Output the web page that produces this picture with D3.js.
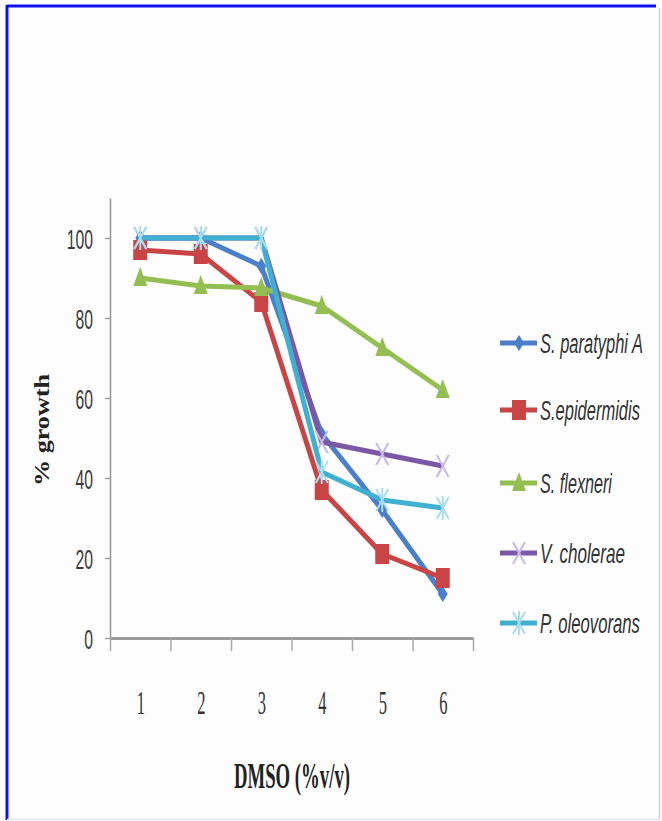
<!DOCTYPE html>
<html><head><meta charset="utf-8">
<script src="https://cdn.jsdelivr.net/npm/d3@7"></script>
<style>
html,body{margin:0;padding:0;background:#fff;}
svg{display:block;}
</style></head>
<body>
<svg id="chart" width="662" height="821"></svg>
<script>
// ---- data ----
const categories = [1, 2, 3, 4, 5, 6];
const seriesNames = ["S. paratyphi A", "S.epidermidis", "S. flexneri", "V. cholerae", "P. oleovorans"];
const paratyphi = [100, 100, 93, 51, 32, 11];
const epidermidis = [97, 96, 84, 37, 21, 15];
const flexneri = [90, 88, 87.5, 83, 72.5, 62];
const cholerae = [100, 100, 100, 49, 46, 43];
const oleovorans = [100, 100, 100, 41.5, 34.5, 32.5];
const yTicks = [0, 20, 40, 60, 80, 100];
const xTitle = "DMSO (%v/v)";
const yTitle = "% growth";

const seriesValues = [paratyphi, epidermidis, flexneri, cholerae, oleovorans];
const colors = ["#4a7fc9", "#c94545", "#93bf52", "#7b58a6", "#3fb0d0"];
const markerFill = ["#4a7fc9", "#c94545", "#93bf52", "#c8b8e8", "#a8dcee"];
const markerKind = ["diamond", "square", "triangle", "x", "star"];

const svg = d3.select("#chart");

// frame
svg.append("rect").attr("x",0).attr("y",0).attr("width",662).attr("height",821).attr("fill","#fdfdfd");
svg.append("line").attr("x1",7).attr("x2",656).attr("y1",6).attr("y2",6).attr("stroke","#1010ee").attr("stroke-width",3);
svg.append("line").attr("x1",7).attr("x2",7).attr("y1",5).attr("y2",820).attr("stroke","#1010ee").attr("stroke-width",3);
svg.append("line").attr("x1",659.5).attr("x2",659.5).attr("y1",8).attr("y2",820).attr("stroke","#d0d0d8").attr("stroke-width",1.5);
svg.append("line").attr("x1",7).attr("x2",660).attr("y1",819.5).attr("y2",819.5).attr("stroke","#dde4f4").attr("stroke-width",1.5);

const x = d3.scaleLinear().domain([0.5, 6.5]).range([110, 473]);
const y = d3.scaleLinear().domain([0, 110]).range([638, 198]);

// y axis
const yAxis = svg.append("g").attr("transform","translate(110,0)")
  .call(d3.axisLeft(y).tickValues(yTicks).tickSize(5).tickSizeOuter(0));
yAxis.select(".domain").attr("stroke","#9a9a9a").attr("stroke-width",1.6);
yAxis.selectAll(".tick line").attr("stroke","#9a9a9a").attr("stroke-width",1.4);
const ySx = 0.56;
yAxis.selectAll(".tick text")
  .attr("font-family","'Liberation Sans', Arial, sans-serif")
  .attr("font-size",28).attr("fill","#3a3a3a")
  .attr("x", -17/ySx).attr("dy","0.36em")
  .attr("transform",`scale(${ySx},1)`);

// x axis: boundary ticks
const xAxis = svg.append("g").attr("transform","translate(0,638)")
  .call(d3.axisBottom(x).tickValues(d3.range(0.5, 7, 1)).tickSize(13).tickSizeOuter(0).tickFormat(""));
xAxis.select(".domain").attr("stroke","#9a9a9a").attr("stroke-width",3);
xAxis.selectAll(".tick line").attr("stroke","#a8a8a8").attr("stroke-width",1.5);

// x labels axis
const xSx = 0.5;
const xLab = svg.append("g").attr("transform","translate(0,638)")
  .call(d3.axisBottom(x).tickValues(categories).tickSize(0).tickFormat(d3.format("d")));
xLab.select(".domain").remove();
xLab.selectAll(".tick text")
  .attr("font-family","'Liberation Serif', 'Times New Roman', serif")
  .attr("font-size",33).attr("fill","#333")
  .attr("y",0).attr("dy",0)
  .attr("transform",`translate(0,76) scale(${xSx},1)`);

// lines
const line = d3.line().x((d,i)=>x(categories[i])).y(d=>y(d));
function marker(g, kind, fill) {
  if (kind === "diamond") {
    g.append("path").attr("d","M0,-8 L5,0 L0,8 L-5,0 Z").attr("fill",fill);
  } else if (kind === "square") {
    g.append("rect").attr("x",-7).attr("y",-10).attr("width",14).attr("height",20).attr("fill",fill);
  } else if (kind === "triangle") {
    g.append("path").attr("d","M0,-11 L7,8 L-7,8 Z").attr("fill",fill);
  } else if (kind === "x") {
    g.append("path").attr("d","M-6,-11 L6,11 M6,-11 L-6,11").attr("stroke",fill).attr("stroke-width",2).attr("fill","none");
  } else if (kind === "star") {
    g.append("path").attr("d","M-6,-11 L6,11 M6,-11 L-6,11 M0,-12 L0,12").attr("stroke",fill).attr("stroke-width",2).attr("fill","none");
  }
}

seriesValues.forEach((vals, si) => {
  const g = svg.append("g");
  g.append("path").datum(vals).attr("d", line).attr("fill","none")
    .attr("stroke", colors[si]).attr("stroke-width", 5).attr("stroke-linejoin","round");
  vals.forEach((v, i) => {
    const mg = g.append("g").attr("transform", `translate(${x(categories[i])},${y(v)})`);
    marker(mg, markerKind[si], markerFill[si]);
  });
});

// legend
const legendY = [343, 410, 483, 553, 623];
const legendEnd = [643, 640, 612, 625, 640];
seriesNames.forEach((name, si) => {
  const g = svg.append("g").attr("transform", `translate(0,${legendY[si]})`);
  g.append("line").attr("x1",500).attr("x2",537).attr("y1",0).attr("y2",0)
    .attr("stroke",colors[si]).attr("stroke-width",5);
  const mg = g.append("g").attr("transform","translate(519,0)");
  marker(mg, markerKind[si], markerFill[si]);
  const t = g.append("text").text(name)
    .attr("font-family","'Liberation Sans', Arial, sans-serif")
    .attr("font-style","italic").attr("font-size",27).attr("fill","#333")
    .attr("dy","0.36em");
  const len = t.node().getComputedTextLength();
  const s = (legendEnd[si] - 540) / len;
  t.attr("transform", `translate(540,0) scale(${s},1)`);
});

// x title
const xt = svg.append("text").text(xTitle)
  .attr("font-family","'Liberation Serif', 'Times New Roman', serif")
  .attr("font-weight","bold").attr("font-size",36).attr("fill","#222")
  .attr("text-anchor","middle");
{
  const len = xt.node().getComputedTextLength();
  xt.attr("transform", `translate(292,788) scale(${116/len},1)`);
}

// y title
const yt = svg.append("text").text(yTitle)
  .attr("font-family","'Liberation Serif', 'Times New Roman', serif")
  .attr("font-weight","bold").attr("font-size",21).attr("fill","#222")
  .attr("text-anchor","middle");
{
  const len = yt.node().getComputedTextLength();
  yt.attr("transform", `translate(49,430) rotate(-90) scale(${112/len},1)`);
}
</script>
</body></html>
